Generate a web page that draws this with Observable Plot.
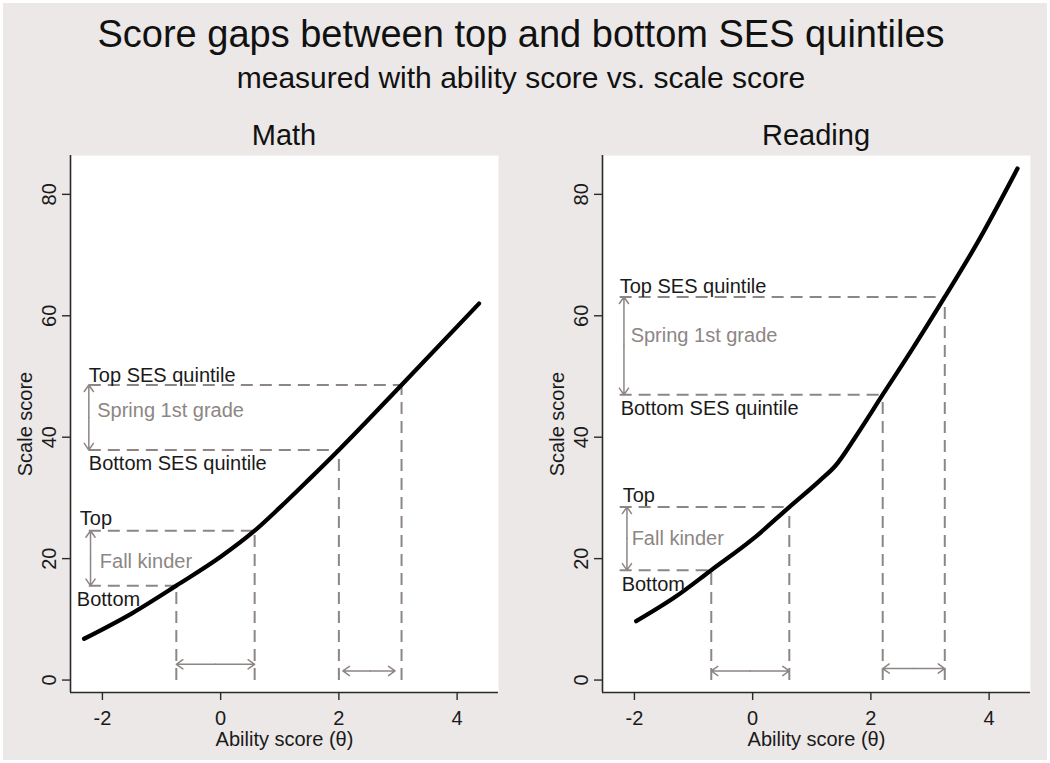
<!DOCTYPE html>
<html><head><meta charset="utf-8">
<script src="https://cdn.jsdelivr.net/npm/d3@7"></script>
<script src="https://cdn.jsdelivr.net/npm/@observablehq/plot@0.6"></script>
<style>
html,body{margin:0;padding:0;background:#fff;}
#page{position:relative;width:1050px;height:763px;background:#fff;overflow:hidden;font-family:"Liberation Sans",Arial,sans-serif;color:#111;}
#bg{position:absolute;left:3px;top:3px;width:1044px;height:757px;background:#EBE8E7;}
.t{position:absolute;text-align:center;line-height:1;white-space:nowrap;}
.panel{position:absolute;top:150px;}
</style></head><body>
<div id="page"><div id="bg"></div>
<div class="t" style="left:0;width:1042px;top:15px;font-size:38px">Score gaps between top and bottom SES quintiles</div>
<div class="t" style="left:0;width:1042px;top:63px;font-size:30px">measured with ability score vs. scale score</div>
<div class="t" id="t1" style="left:70px;width:428px;top:121px;font-size:29px"></div>
<div class="t" id="t2" style="left:602px;width:428px;top:121px;font-size:29px"></div>
<div class="panel" id="p1" style="left:0"></div>
<div class="panel" id="p2" style="left:525px"></div>
</div>
<script>
// ---- data ----
const panelTitles = ["Math", "Reading"];
const xLabel = "Ability score (θ)";
const yLabel = "Scale score";
const xTicks = [-2, 0, 2, 4];
const yTicks = [0, 20, 40, 60, 80];

const mathTheta = [-2.31, -1.5, -0.75, 0, 0.575, 1.0, 1.5, 2.0, 3.06, 4.37];
const mathScale = [6.8, 11.0, 15.55, 20.3, 24.6, 28.4, 33.1, 37.9, 48.6, 62.0];
const readingTheta = [-1.97, -1.3, -0.7, 0, 0.62, 1.14, 1.4, 1.75, 2.2, 2.7, 3.25, 3.8, 4.48];
const readingScale = [9.7, 13.75, 18.1, 23.2, 28.5, 32.9, 35.3, 40.2, 47.0, 54.5, 63.1, 72.0, 84.25];

// [bottom SES quintile, top SES quintile]
const mathFallTheta = [-0.75, 0.575];
const mathFallScale = [15.55, 24.6];
const mathSpringTheta = [2.0, 3.06];
const mathSpringScale = [37.9, 48.6];
const readingFallTheta = [-0.7, 0.62];
const readingFallScale = [18.1, 28.5];
const readingSpringTheta = [2.2, 3.25];
const readingSpringScale = [47.0, 63.1];

const fallLabels = ["Bottom", "Top", "Fall kinder"];
const springLabels = ["Bottom SES quintile", "Top SES quintile", "Spring 1st grade"];

// ---- drawing ----
const GRAY = "#8d8684";
const DARK = "#1a1a1a";
const xDomain = [-2.54, 4.70];
const yDomain = [-2.05, 86.4];

function makePanel(theta, scale, fallT, fallS, springT, springS, L) {
  const curve = theta.map((t, i) => ({theta: t, score: scale[i]}));
  const pts = [
    {theta: fallT[0], score: fallS[0]}, {theta: fallT[1], score: fallS[1]},
    {theta: springT[0], score: springS[0]}, {theta: springT[1], score: springS[1]}
  ];
  const x0 = L.lineStart;
  const vArrows = (lo, hi, dx) => {
    const m = (lo + hi) / 2;
    return Plot.arrow([{a: m, b: lo}, {a: m, b: hi}], {
      x1: () => x0, x2: () => x0, y1: "a", y2: "b", dx,
      stroke: GRAY, strokeWidth: 1.5, headLength: 8, headAngle: 70
    });
  };
  const hArrow = (lo, hi, yv, inS, inE) => {
    const m = (lo + hi) / 2;
    return [
      Plot.arrow([{a: m, b: lo}], {x1: "a", x2: "b", y1: () => yv, y2: () => yv, insetEnd: inS, stroke: GRAY, strokeWidth: 1.5, headLength: 8, headAngle: 70}),
      Plot.arrow([{a: m, b: hi}], {x1: "a", x2: "b", y1: () => yv, y2: () => yv, insetEnd: inE, stroke: GRAY, strokeWidth: 1.5, headLength: 8, headAngle: 70})
    ];
  };
  const txt = (label, yv, dx, dy, fill) => Plot.text([label], {
    x: () => x0, y: () => yv, text: d => d, dx, dy, fill,
    textAnchor: "start", lineAnchor: "middle", fontSize: 20
  });
  return Plot.plot({
    width: 525, height: 613,
    marginLeft: L.ml, marginRight: L.mr, marginTop: 5, marginBottom: 71,
    x: {domain: xDomain}, y: {domain: yDomain},
    style: {fontSize: "20px", fontFamily: "'Liberation Sans', Arial, sans-serif", background: "transparent", color: DARK, overflow: "visible"},
    marks: [
      Plot.frame({fill: "white", stroke: null}),
      Plot.link(pts, {x1: () => x0, x2: "theta", y1: "score", y2: "score", stroke: GRAY, strokeWidth: 2, strokeDasharray: "12,7"}),
      Plot.link(pts, {x1: "theta", x2: "theta", y1: () => 0, y2: "score", stroke: GRAY, strokeWidth: 2, strokeDasharray: "12,7"}),
      vArrows(springS[0], springS[1], L.springArrowDx),
      vArrows(fallS[0], fallS[1], L.fallArrowDx),
      ...hArrow(fallT[0], fallT[1], L.fallArrowY, 0, 0),
      ...hArrow(springT[0], springT[1], L.springArrowY, L.springInS, L.springInE),
      Plot.line(curve, {x: "theta", y: "score", curve: "monotone-x", stroke: "#000", strokeWidth: 4.3}),
      txt(springLabels[1], springS[1], L.d.topSES[0], L.d.topSES[1], DARK),
      txt(springLabels[0], springS[0], L.d.botSES[0], L.d.botSES[1], DARK),
      txt(springLabels[2], (springS[0] + springS[1]) / 2, L.d.spring[0], L.d.spring[1], GRAY),
      txt(fallLabels[1], fallS[1], L.d.top[0], L.d.top[1], DARK),
      txt(fallLabels[0], fallS[0], L.d.bot[0], L.d.bot[1], DARK),
      txt(fallLabels[2], (fallS[0] + fallS[1]) / 2, L.d.fall[0], L.d.fall[1], GRAY),
      Plot.ruleX([xDomain[0]], {stroke: "#2a2a2a", strokeWidth: 1.6}),
      Plot.ruleY([yDomain[0]], {stroke: "#2a2a2a", strokeWidth: 1.6}),
      Plot.axisX(xTicks, {tickSize: 8, tickPadding: 10, tickFormat: d => String(d), stroke: "#2a2a2a", strokeWidth: 1.4,
        label: xLabel, labelAnchor: "center", labelOffset: 53, labelArrow: "none"}),
      Plot.axisY(yTicks, {tickSize: 8, tickPadding: 7, tickRotate: -90, tickFormat: d => String(d), stroke: "#2a2a2a", strokeWidth: 1.4,
        label: yLabel, labelAnchor: "center", labelOffset: 53, labelArrow: "none"})
    ]
  });
}

document.getElementById("t1").textContent = panelTitles[0];
document.getElementById("t2").textContent = panelTitles[1];

document.getElementById("p1").append(makePanel(mathTheta, mathScale, mathFallTheta, mathFallScale, mathSpringTheta, mathSpringScale, {
  ml: 70, mr: 27, lineStart: -2.23, springArrowDx: 0, fallArrowDx: 1.7, fallArrowY: 2.6, springArrowY: 1.5, springInS: 4, springInE: 6.5,
  d: {topSES: [0, -9], botSES: [0, 14], spring: [8.4, -7], top: [-9, -12.5], bot: [-12, 14], fall: [11, 3]}
}));
document.getElementById("p2").append(makePanel(readingTheta, readingScale, readingFallTheta, readingFallScale, readingSpringTheta, readingSpringScale, {
  ml: 77, mr: 20, lineStart: -2.25, springArrowDx: 4.3, fallArrowDx: 7.3, fallArrowY: 1.5, springArrowY: 1.9, springInS: 0, springInE: 0,
  d: {topSES: [0, -10], botSES: [1, 14], spring: [11, -10], top: [3, -11], bot: [2, 14], fall: [12, 0]}
}));
</script>
</body></html>
